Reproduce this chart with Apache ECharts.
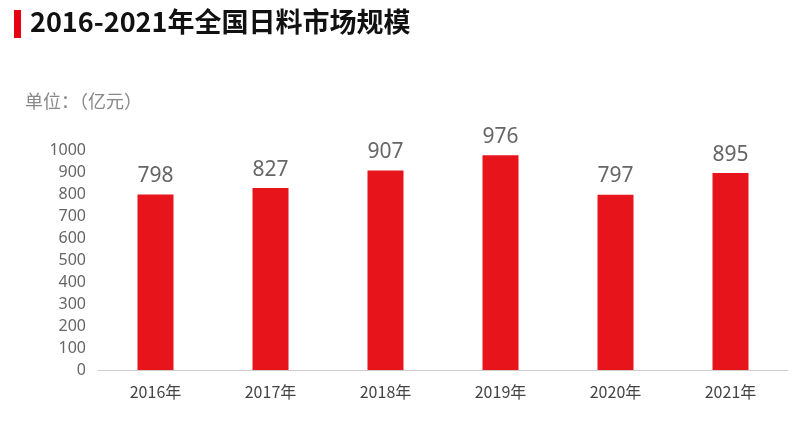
<!DOCTYPE html>
<html><head><meta charset="utf-8">
<script src="https://cdn.jsdelivr.net/npm/echarts@6/dist/echarts.min.js"></script>
<style>html,body{margin:0;padding:0;background:#fff}#c{width:808px;height:433px}</style>
</head><body><div id="c"></div>
<script>
const categories=['2016年','2017年','2018年','2019年','2020年','2021年'];
const values=[798,827,907,976,797,895];
const yTicks=[0,100,200,300,400,500,600,700,800,900,1000];
const chart=echarts.init(document.getElementById('c'));
chart.setOption({
  animation:false,
  graphic:[
    {type:'rect',left:14,top:10,shape:{width:7,height:28},style:{fill:'#e60012'}},
    {type:'text',left:30,top:8,style:{text:'2016-2021年全国日料市场规模',font:'bold 27px "Noto Sans CJK SC"',fill:'#111'}},
    {type:'text',left:25,top:92,style:{text:'单位：（亿元）',font:'18px "Noto Sans CJK SC"',fill:'#888'}}
  ],
  grid:{left:98,right:20,top:150,bottom:63},
  xAxis:{type:'category',data:categories,axisTick:{show:false},
    axisLine:{lineStyle:{color:'#ccc'}},
    axisLabel:{color:'#444',fontSize:16,margin:14,fontFamily:'Noto Sans CJK SC'}},
  yAxis:{type:'value',min:0,max:1000,interval:100,splitLine:{show:false},
    axisLine:{show:false},axisTick:{show:false},
    axisLabel:{color:'#666',fontSize:16,margin:12,fontFamily:'Noto Sans',formatter:v=>yTicks.includes(v)?String(v):''}},
  series:[{type:'bar',data:values,barWidth:36,itemStyle:{color:'#e8141c'},
    label:{show:true,position:'top',color:'#666',fontSize:21,distance:8,fontFamily:'Noto Sans'}}]
});
</script></body></html>
